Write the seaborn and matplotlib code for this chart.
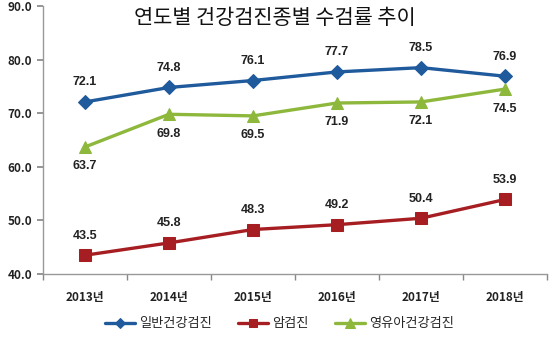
import matplotlib
matplotlib.use("Agg")
import matplotlib.pyplot as plt
import seaborn as sns
import pandas as pd
import numpy as np
from matplotlib.ticker import FixedLocator, FormatStrFormatter

years = ["2013년", "2014년", "2015년", "2016년", "2017년", "2018년"]
series_names = ["일반건강검진", "암검진", "영유아건강검진"]
general = [72.1, 74.8, 76.1, 77.7, 78.5, 76.9]
cancer = [43.5, 45.8, 48.3, 49.2, 50.4, 53.9]
infant = [63.7, 69.8, 69.5, 71.9, 72.1, 74.5]
title = "연도별 건강검진종별 수검률 추이"

sns.set_theme(style="white")
plt.rcParams['font.family'] = ['Noto Sans CJK KR', 'DejaVu Sans']

rows = []
for name, vals in zip(series_names, [general, cancer, infant]):
    for i, v in enumerate(vals):
        rows.append({"idx": i, "year": years[i], "rate": v, "type": name})
df = pd.DataFrame(rows)

colors = {"일반건강검진": "#1F5A9C", "암검진": "#A61E22", "영유아건강검진": "#8DB83C"}
markers = {"일반건강검진": "D", "암검진": "s", "영유아건강검진": "^"}
msize = {"일반건강검진": 7, "암검진": 8.5, "영유아건강검진": 9}

fig = plt.figure(figsize=(5.5, 3.5), dpi=100)
ax = fig.add_axes([43/550, 1-274/350, (547-43)/550, (274-6)/350])

for name in series_names:
    sub = df[df["type"] == name]
    sns.lineplot(data=sub, x="idx", y="rate", ax=ax, color=colors[name],
                 marker=markers[name], markersize=msize[name], linewidth=2.4,
                 markeredgecolor=colors[name], label=name, legend=False)

label_offset = {"일반건강검진": 14, "암검진": 14, "영유아건강검진": -14}
for name, vals in zip(series_names, [general, cancer, infant]):
    for i, v in enumerate(vals):
        off = label_offset[name]
        ax.annotate(f"{v:.1f}", (i, v), xytext=(0, off), textcoords="offset points",
                    ha="center", va="center", fontsize=9, fontweight="bold",
                    color="#222222", family=['Liberation Sans', 'Noto Sans CJK KR'])

ax.set_xlim(-0.5, 5.5)
ax.set_ylim(40, 90)
ax.set_yticks(np.arange(40, 91, 10))
ax.yaxis.set_major_formatter(FormatStrFormatter("%.1f"))
ax.set_xticks(range(len(years)))
ax.set_xticklabels(years)
ax.xaxis.set_minor_locator(FixedLocator(np.arange(-0.5, 6, 1)))
ax.tick_params(axis="x", which="major", length=0, pad=12)
ax.tick_params(axis="x", which="minor", length=4, color="#888888", bottom=True, direction="out")
ax.tick_params(axis="y", which="major", length=4, color="#888888", left=True, direction="out", pad=4)
for lab in ax.get_xticklabels() + ax.get_yticklabels():
    lab.set_fontsize(8.5)
    lab.set_fontweight("bold")
    lab.set_color("#222222")
ax.set_xlabel("")
ax.set_ylabel("")
for s in ["top", "right"]:
    ax.spines[s].set_visible(False)
for s in ["left", "bottom"]:
    ax.spines[s].set_color("#999999")
    ax.spines[s].set_linewidth(1)

fig.text(0.5, 1-18/350, title, ha="center", va="center", fontsize=15, color="#111111")

h, l = ax.get_legend_handles_labels()
fig.legend(h, l, loc="center", bbox_to_anchor=(0.508, 1-324/350), ncol=3, frameon=False,
           fontsize=9.5, handlelength=2.3, columnspacing=2.0, handletextpad=0.3,
           markerscale=0.75)

fig.savefig("out.png", dpi=100, facecolor="white")
